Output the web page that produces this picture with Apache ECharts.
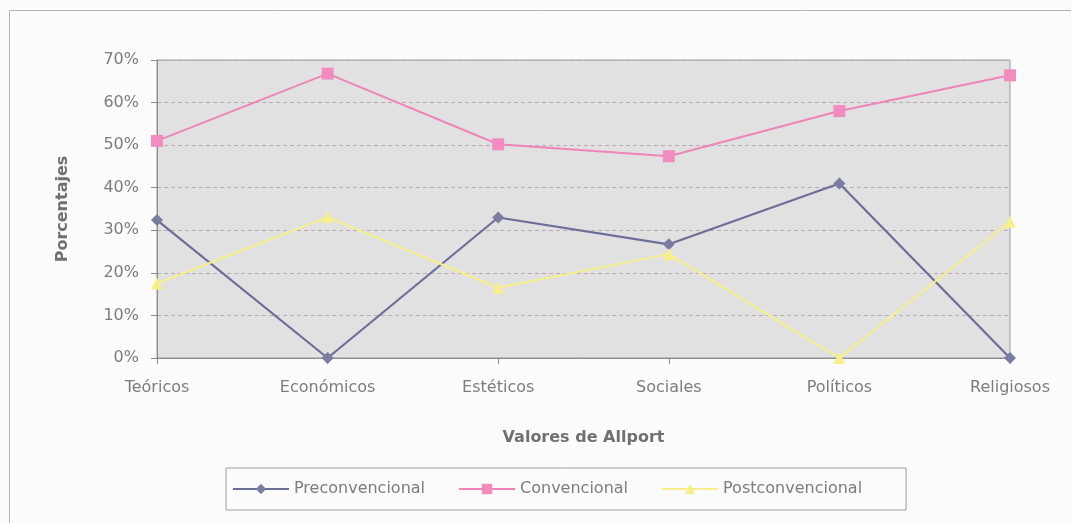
<!DOCTYPE html>
<html>
<head>
<meta charset="utf-8">
<script src="https://cdn.jsdelivr.net/npm/echarts@6/dist/echarts.min.js"></script>
<style>
  html, body { margin: 0; padding: 0; background: #fbfbfb; }
  #chart { width: 1071px; height: 523px; }
</style>
</head>
<body>
<div id="chart"></div>
<script>
// Allport value categories
const categories = ['Teóricos', 'Económicos', 'Estéticos', 'Sociales', 'Políticos', 'Religiosos'];

// Percentages per moral development level
const preconvencional  = [32.4, 0, 33.0, 26.7, 41.0, 0];
const convencional     = [51.0, 66.8, 50.2, 47.4, 58.0, 66.4];
const postconvencional = [17.5, 33.1, 16.5, 24.4, 0, 32.0];

const seriesNames = ['Preconvencional', 'Convencional', 'Postconvencional'];
const yTicks = [0, 10, 20, 30, 40, 50, 60, 70];

const font = 'DejaVu Sans';
const textGrey = '#7c7c7c';

const chart = echarts.init(document.getElementById('chart'), null, { renderer: 'canvas' });

chart.setOption({
  backgroundColor: '#fbfbfb',
  animation: false,
  graphic: [{
    type: 'rect',
    z: -10,
    shape: { x: 9.5, y: 10.5, width: 1200, height: 700 },
    style: { fill: 'none', stroke: '#b4b4b4', lineWidth: 1 }
  }],
  grid: {
    left: 157, right: 61, top: 60, bottom: 165,
    show: true,
    backgroundColor: '#e1e1e1',
    borderColor: '#9a9a9a',
    borderWidth: 1
  },
  legend: {
    left: 226, top: 468,
    orient: 'horizontal',
    data: seriesNames,
    padding: [13, 44, 13, 6],
    borderColor: '#9e9e9e',
    borderWidth: 1,
    itemWidth: 56,
    itemHeight: 13,
    itemGap: 33,
    textStyle: { fontFamily: font, fontSize: 16, color: textGrey }
  },
  xAxis: {
    type: 'category',
    data: categories,
    boundaryGap: false,
    name: 'Valores de Allport',
    nameLocation: 'middle',
    nameGap: 72,
    nameTextStyle: { fontFamily: font, fontSize: 16, fontWeight: 'bold', color: '#707070' },
    axisLine: { lineStyle: { color: '#8c8c8c', width: 1 } },
    axisTick: { show: true, alignWithLabel: true, length: 6, lineStyle: { color: '#8c8c8c' } },
    axisLabel: { margin: 22, fontFamily: font, fontSize: 16, color: textGrey },
    splitLine: { show: false }
  },
  yAxis: {
    type: 'value',
    min: yTicks[0],
    max: yTicks[yTicks.length - 1],
    interval: 10,
    name: 'Porcentajes',
    nameLocation: 'middle',
    nameGap: 86,
    nameTextStyle: { fontFamily: font, fontSize: 16, fontWeight: 'bold', color: '#707070' },
    axisLine: { show: true, lineStyle: { color: '#8c8c8c', width: 1 } },
    axisTick: { show: true, length: 6, lineStyle: { color: '#8c8c8c' } },
    axisLabel: { margin: 18, fontFamily: font, fontSize: 16, color: textGrey, formatter: '{value}%' },
    splitLine: { show: true, lineStyle: { color: '#bba9b3', type: [4, 3], width: 1 } }
  },
  series: [
    {
      name: seriesNames[0],
      type: 'line',
      data: preconvencional,
      symbol: 'diamond',
      symbolSize: 12,
      lineStyle: { color: '#6c6e98', width: 2.2 },
      itemStyle: { color: '#7a7ca4' }
    },
    {
      name: seriesNames[1],
      type: 'line',
      data: convencional,
      symbol: 'rect',
      symbolSize: 12,
      lineStyle: { color: '#ef84b9', width: 2 },
      itemStyle: { color: '#f28cc0' }
    },
    {
      name: seriesNames[2],
      type: 'line',
      data: postconvencional,
      symbol: 'triangle',
      symbolSize: 12,
      lineStyle: { color: '#f7f08a', width: 2 },
      itemStyle: { color: '#f7f08a' }
    }
  ]
});
</script>
</body>
</html>
